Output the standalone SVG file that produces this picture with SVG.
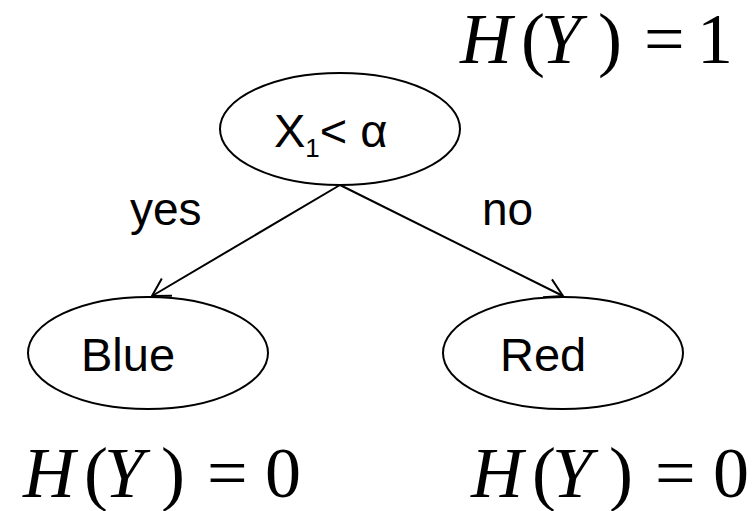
<svg xmlns="http://www.w3.org/2000/svg" width="756" height="511" viewBox="0 0 756 511">
<style>
.node{fill:#fff;stroke:#000;stroke-width:2}
.lbl{font-family:"Liberation Sans",Arial,sans-serif;font-size:47px;fill:#000}
.elbl{font-family:"Liberation Sans",Arial,sans-serif;font-size:46px;fill:#000}
.math{font-family:"Liberation Serif","Times New Roman",serif;font-size:72px;fill:#000}
.it{font-style:italic}
.edge{stroke:#000;stroke-width:2;fill:none}
</style>
<defs>
<marker id="arr" markerWidth="24" markerHeight="24" refX="20" refY="10" orient="auto" markerUnits="userSpaceOnUse" overflow="visible">
<path d="M2.7,0 L20,10 L2.7,20" fill="none" stroke="#000" stroke-width="2"/>
</marker>
</defs>
<g id="edges">
<line class="edge" x1="340" y1="185" x2="152" y2="296" marker-end="url(#arr)"/>
<line class="edge" x1="340" y1="185" x2="563" y2="296" marker-end="url(#arr)"/>
<text class="elbl" x="130" y="225">yes</text>
<text class="elbl" x="482" y="225">no</text>
</g>
<g id="root">
<ellipse class="node" cx="340" cy="129" rx="120" ry="56"/>
<text class="lbl" x="274" y="147">X<tspan font-size="26" dy="10">1</tspan><tspan dy="-10">&lt; α</tspan></text>
</g>
<g id="blue">
<ellipse class="node" cx="148" cy="353" rx="120" ry="56"/>
<text class="lbl" x="81" y="371">Blue</text>
</g>
<g id="red">
<ellipse class="node" cx="563" cy="353" rx="120" ry="56"/>
<text class="lbl" x="500" y="371">Red</text>
</g>
<g id="entropy">
<text class="math" y="63"><tspan class="it" x="460">H</tspan><tspan x="521">(</tspan><tspan class="it" x="541">Y</tspan><tspan x="598">)</tspan><tspan x="644">=</tspan><tspan x="697">1</tspan></text>
<text class="math" y="497"><tspan class="it" x="23">H</tspan><tspan x="84">(</tspan><tspan class="it" x="104">Y</tspan><tspan x="161">)</tspan><tspan x="207">=</tspan><tspan x="265">0</tspan></text>
<text class="math" y="497"><tspan class="it" x="471">H</tspan><tspan x="532">(</tspan><tspan class="it" x="552">Y</tspan><tspan x="609">)</tspan><tspan x="655">=</tspan><tspan x="713">0</tspan></text>
</g>
</svg>
